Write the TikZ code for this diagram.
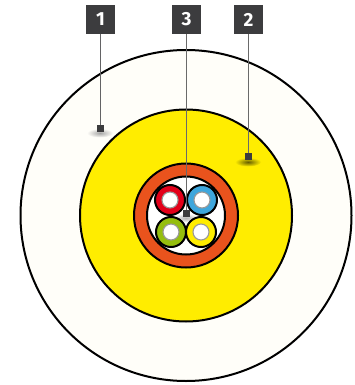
\documentclass[tikz,border=0pt]{standalone}
\usepackage{fontspec}
\setsansfont{Fira Sans}
\usetikzlibrary{shapes.geometric,positioning}
\definecolor{Jacket}{HTML}{FFFEF9}
\definecolor{Yarn}{HTML}{FFED00}
\definecolor{Sheath}{HTML}{E9531D}
\definecolor{Tag}{HTML}{3C3C3E}
\definecolor{Leader}{HTML}{6A6A6A}
\definecolor{FibRed}{HTML}{E2001A}
\definecolor{FibBlue}{HTML}{3EA6DC}
\definecolor{FibGreen}{HTML}{95BE0E}
\definecolor{FibYellow}{HTML}{FFED00}
\tikzset{
  layer/.style={circle, draw=black, line width=2pt, inner sep=0pt, outer sep=0pt, minimum size=#1},
  fibre/.style={layer=30pt, fill=#1},
  core/.style={circle, draw=gray!80, fill=white, line width=1.1pt, inner sep=0pt, minimum size=16pt},
  tagbox/.style={rectangle, fill=Tag, text=white, minimum size=29pt, inner sep=0pt, outer sep=0pt,
                 font=\sffamily\bfseries\fontsize{19}{19}\selectfont},
  markbox/.style={rectangle, fill=Tag, minimum size=7pt, inner sep=0pt, outer sep=0pt},
  shadow/.style={ellipse, minimum width=26pt, minimum height=9pt, inner sep=0pt, draw=none},
  leader/.style={draw=Leader, line width=1.7pt},
}
\begin{document}
\begin{tikzpicture}[x=1pt,y=-1pt]
  \useasboundingbox[fill=white] (0,0) rectangle (354,385);
  % cable layers
  \node[layer=331pt, fill=Jacket] (jacket) at (186,215.5) {};
  \node[layer=212pt, fill=Yarn] (yarn) at (186,215.5) {};
  \node[layer=104pt, fill=Sheath] (sheath) at (186,215.5) {};
  \node[layer=78pt, fill=white] (tube) at (186,215.5) {};
  % shadows under the markers
  \node[shadow, shade, inner color=gray!70, outer color=Jacket] (shadeA) at (100,133) {};
  \node[shadow, shade, inner color=black!60!Yarn, outer color=Yarn] (shadeB) at (248,162) {};
  \node[shadow, shade, inner color=gray!60, outer color=white] (shadeC) at (186,218) {};
  % fibres
  \node[fibre=FibRed] (red) at (170,200) {};
  \node[fibre=FibBlue] (blue) at (202,200) {};
  \node[fibre=FibGreen] (green) at (171,232) {};
  \node[fibre=FibYellow] (yellow) at (201,232) {};
  \node[core] at (red) {};
  \node[core] at (blue) {};
  \node[core] at (green) {};
  \node[core] at (yellow) {};
  % tags and markers
  \node[tagbox] (tagA) at (100.5,19.5) {1};
  \node[tagbox] (tagB) at (248.5,19.5) {2};
  \node[tagbox] (tagC) at (186.5,19.5) {3};
  \node[markbox] (markA) at (100.5,128) {};
  \node[markbox] (markB) at (248.5,156) {};
  \node[markbox] (markC) at (186.5,213) {};
  \draw[leader, draw=Tag!80] (tagA)--(markA);
  \draw[leader] (tagB)--(markB);
  \draw[leader] (tagC)--(markC);
\end{tikzpicture}
\end{document}
